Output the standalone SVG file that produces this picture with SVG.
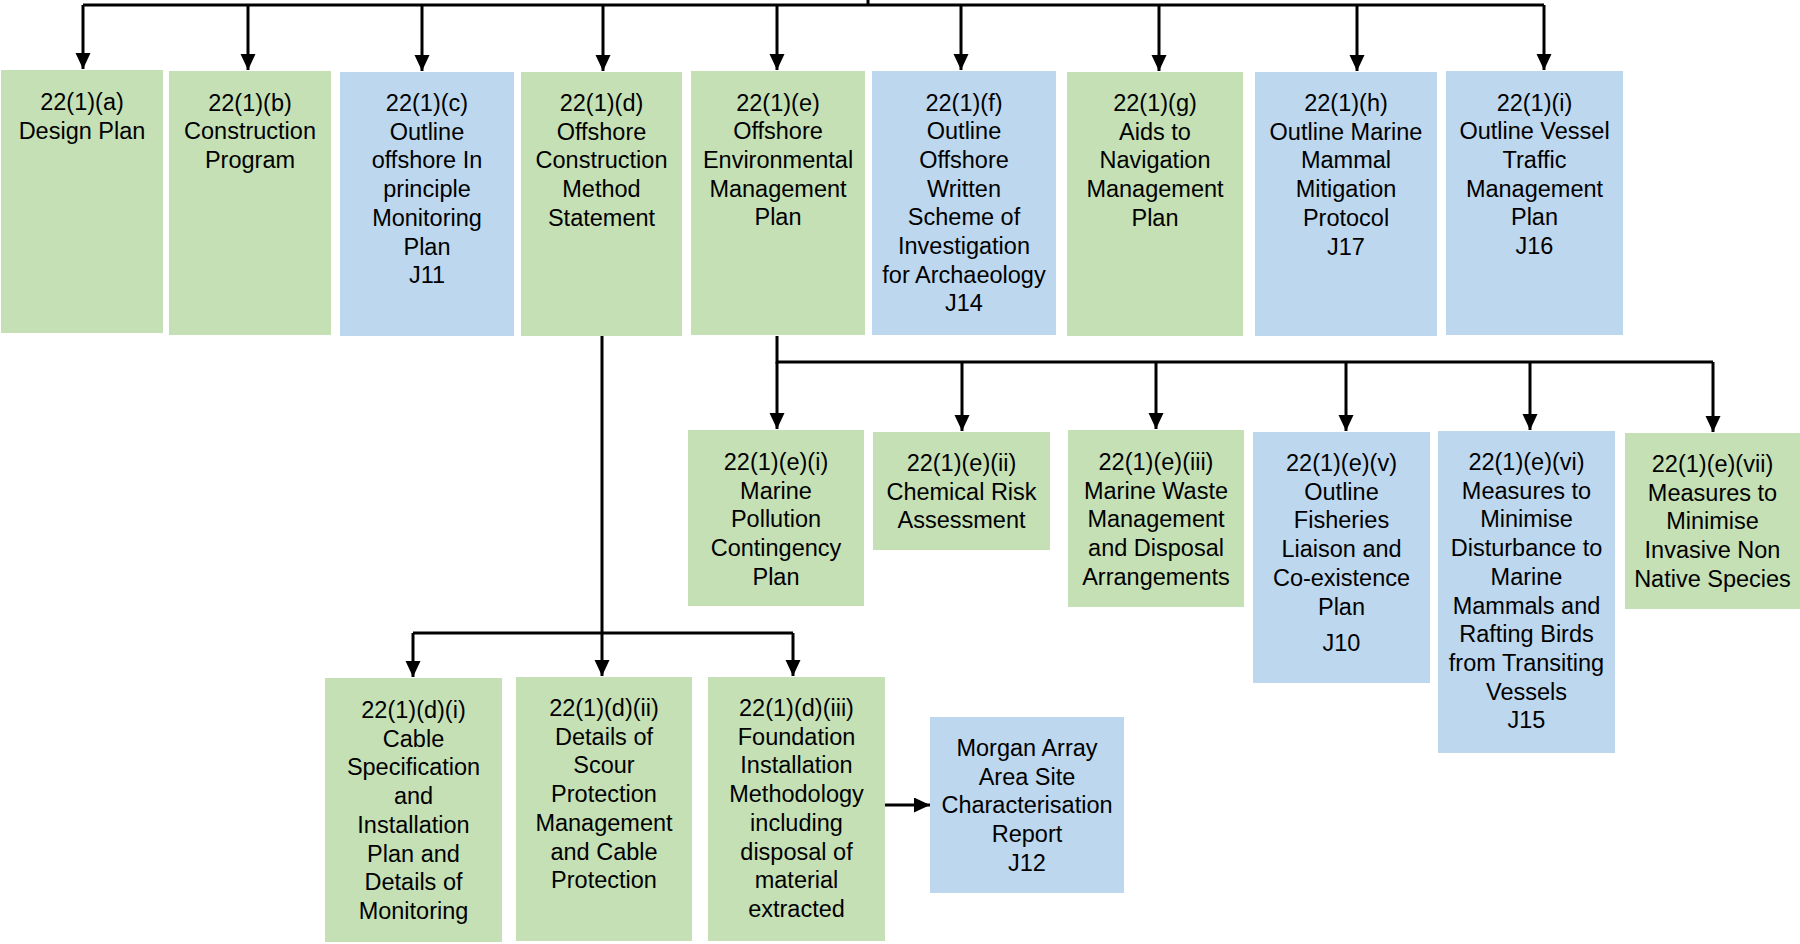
<svg xmlns="http://www.w3.org/2000/svg" width="1800" height="944" viewBox="0 0 1800 944">
<style>
.g{fill:#C5E0B4}
.b{fill:#BDD7EE}
text{font-family:"Liberation Sans",Arial,sans-serif;font-size:23.5px;fill:#000;text-anchor:middle}
.c{fill:none;stroke:#000;stroke-width:3}
.a{fill:none;stroke:#000;stroke-width:3;marker-end:url(#ah)}
</style>
<defs>
<marker id="ah" markerUnits="userSpaceOnUse" markerWidth="16" markerHeight="16" refX="16" refY="7.5" orient="auto">
<path d="M0,0 L16,7.5 L0,15 z" fill="#000"/>
</marker>
</defs>
<rect width="1800" height="944" fill="#fff"/>
<g id="connectors">
<path class="c" d="M868,0 V5 M83,5 H1544"/>
<path class="a" d="M83,5 V69"/>
<path class="a" d="M248,5 V70"/>
<path class="a" d="M422,5 V71"/>
<path class="a" d="M603,5 V71"/>
<path class="a" d="M777,5 V70"/>
<path class="a" d="M961,5 V70"/>
<path class="a" d="M1159,5 V71"/>
<path class="a" d="M1357,5 V71"/>
<path class="a" d="M1544,5 V70"/>
<path class="c" d="M777,336 V362 H1713"/>
<path class="a" d="M777,362 V429"/>
<path class="a" d="M962,362 V431"/>
<path class="a" d="M1156,362 V429"/>
<path class="a" d="M1346,362 V431"/>
<path class="a" d="M1530,362 V430"/>
<path class="a" d="M1713,362 V432"/>
<path class="c" d="M602,336 V633 M413,633 H793"/>
<path class="a" d="M413,633 V677"/>
<path class="a" d="M602,633 V676"/>
<path class="a" d="M793,633 V676"/>
<path class="a" d="M885,805 H930"/>
</g>
<g id="n_a"><rect class="g" x="1" y="70" width="162" height="263"/>
<text y="110"><tspan x="82">22(1)(a)</tspan><tspan x="82" dy="28.7">Design Plan</tspan></text></g>
<g id="n_b"><rect class="g" x="169" y="71" width="162" height="264"/>
<text y="110.5"><tspan x="250">22(1)(b)</tspan><tspan x="250" dy="28.7">Construction</tspan><tspan x="250" dy="28.7">Program</tspan></text></g>
<g id="n_c"><rect class="b" x="340" y="72" width="174" height="264"/>
<text y="111"><tspan x="427">22(1)(c)</tspan><tspan x="427" dy="28.7">Outline</tspan><tspan x="427" dy="28.7">offshore In</tspan><tspan x="427" dy="28.7">principle</tspan><tspan x="427" dy="28.7">Monitoring</tspan><tspan x="427" dy="28.7">Plan</tspan><tspan x="427" dy="28.7">J11</tspan></text></g>
<g id="n_d"><rect class="g" x="521" y="72" width="161" height="264"/>
<text y="111"><tspan x="601.5">22(1)(d)</tspan><tspan x="601.5" dy="28.7">Offshore</tspan><tspan x="601.5" dy="28.7">Construction</tspan><tspan x="601.5" dy="28.7">Method</tspan><tspan x="601.5" dy="28.7">Statement</tspan></text></g>
<g id="n_e"><rect class="g" x="691" y="71" width="174" height="264"/>
<text y="110.5"><tspan x="778">22(1)(e)</tspan><tspan x="778" dy="28.7">Offshore</tspan><tspan x="778" dy="28.7">Environmental</tspan><tspan x="778" dy="28.7">Management</tspan><tspan x="778" dy="28.7">Plan</tspan></text></g>
<g id="n_f"><rect class="b" x="872" y="71" width="184" height="264"/>
<text y="110.5"><tspan x="964">22(1)(f)</tspan><tspan x="964" dy="28.7">Outline</tspan><tspan x="964" dy="28.7">Offshore</tspan><tspan x="964" dy="28.7">Written</tspan><tspan x="964" dy="28.7">Scheme of</tspan><tspan x="964" dy="28.7">Investigation</tspan><tspan x="964" dy="28.7">for Archaeology</tspan><tspan x="964" dy="28.7">J14</tspan></text></g>
<g id="n_g"><rect class="g" x="1067" y="72" width="176" height="264"/>
<text y="111"><tspan x="1155">22(1)(g)</tspan><tspan x="1155" dy="28.7">Aids to</tspan><tspan x="1155" dy="28.7">Navigation</tspan><tspan x="1155" dy="28.7">Management</tspan><tspan x="1155" dy="28.7">Plan</tspan></text></g>
<g id="n_h"><rect class="b" x="1255" y="72" width="182" height="264"/>
<text y="111"><tspan x="1346">22(1)(h)</tspan><tspan x="1346" dy="28.7">Outline Marine</tspan><tspan x="1346" dy="28.7">Mammal</tspan><tspan x="1346" dy="28.7">Mitigation</tspan><tspan x="1346" dy="28.7">Protocol</tspan><tspan x="1346" dy="28.7">J17</tspan></text></g>
<g id="n_i"><rect class="b" x="1446" y="71" width="177" height="264"/>
<text y="110.5"><tspan x="1534.5">22(1)(i)</tspan><tspan x="1534.5" dy="28.7">Outline Vessel</tspan><tspan x="1534.5" dy="28.7">Traffic</tspan><tspan x="1534.5" dy="28.7">Management</tspan><tspan x="1534.5" dy="28.7">Plan</tspan><tspan x="1534.5" dy="28.7">J16</tspan></text></g>
<g id="n_ei"><rect class="g" x="688" y="430" width="176" height="176"/>
<text y="470"><tspan x="776">22(1)(e)(i)</tspan><tspan x="776" dy="28.7">Marine</tspan><tspan x="776" dy="28.7">Pollution</tspan><tspan x="776" dy="28.7">Contingency</tspan><tspan x="776" dy="28.7">Plan</tspan></text></g>
<g id="n_eii"><rect class="g" x="873" y="432" width="177" height="118"/>
<text y="471"><tspan x="961.5">22(1)(e)(ii)</tspan><tspan x="961.5" dy="28.7">Chemical Risk</tspan><tspan x="961.5" dy="28.7">Assessment</tspan></text></g>
<g id="n_eiii"><rect class="g" x="1068" y="430" width="176" height="177"/>
<text y="470"><tspan x="1156">22(1)(e)(iii)</tspan><tspan x="1156" dy="28.7">Marine Waste</tspan><tspan x="1156" dy="28.7">Management</tspan><tspan x="1156" dy="28.7">and Disposal</tspan><tspan x="1156" dy="28.7">Arrangements</tspan></text></g>
<g id="n_ev"><rect class="b" x="1253" y="432" width="177" height="251"/>
<text y="471"><tspan x="1341.5">22(1)(e)(v)</tspan><tspan x="1341.5" dy="28.7">Outline</tspan><tspan x="1341.5" dy="28.7">Fisheries</tspan><tspan x="1341.5" dy="28.7">Liaison and</tspan><tspan x="1341.5" dy="28.7">Co-existence</tspan><tspan x="1341.5" dy="28.7">Plan</tspan><tspan x="1341.5" dy="36.5">J10</tspan></text></g>
<g id="n_evi"><rect class="b" x="1438" y="431" width="177" height="322"/>
<text y="470"><tspan x="1526.5">22(1)(e)(vi)</tspan><tspan x="1526.5" dy="28.7">Measures to</tspan><tspan x="1526.5" dy="28.7">Minimise</tspan><tspan x="1526.5" dy="28.7">Disturbance to</tspan><tspan x="1526.5" dy="28.7">Marine</tspan><tspan x="1526.5" dy="28.7">Mammals and</tspan><tspan x="1526.5" dy="28.7">Rafting Birds</tspan><tspan x="1526.5" dy="28.7">from Transiting</tspan><tspan x="1526.5" dy="28.7">Vessels</tspan><tspan x="1526.5" dy="28.7">J15</tspan></text></g>
<g id="n_evii"><rect class="g" x="1625" y="433" width="175" height="176"/>
<text y="472"><tspan x="1712.5">22(1)(e)(vii)</tspan><tspan x="1712.5" dy="28.7">Measures to</tspan><tspan x="1712.5" dy="28.7">Minimise</tspan><tspan x="1712.5" dy="28.7">Invasive Non</tspan><tspan x="1712.5" dy="28.7">Native Species</tspan></text></g>
<g id="n_di"><rect class="g" x="325" y="678" width="177" height="264"/>
<text y="718"><tspan x="413.5">22(1)(d)(i)</tspan><tspan x="413.5" dy="28.7">Cable</tspan><tspan x="413.5" dy="28.7">Specification</tspan><tspan x="413.5" dy="28.7">and</tspan><tspan x="413.5" dy="28.7">Installation</tspan><tspan x="413.5" dy="28.7">Plan and</tspan><tspan x="413.5" dy="28.7">Details of</tspan><tspan x="413.5" dy="28.7">Monitoring</tspan></text></g>
<g id="n_dii"><rect class="g" x="516" y="677" width="176" height="264"/>
<text y="716"><tspan x="604">22(1)(d)(ii)</tspan><tspan x="604" dy="28.7">Details of</tspan><tspan x="604" dy="28.7">Scour</tspan><tspan x="604" dy="28.7">Protection</tspan><tspan x="604" dy="28.7">Management</tspan><tspan x="604" dy="28.7">and Cable</tspan><tspan x="604" dy="28.7">Protection</tspan></text></g>
<g id="n_diii"><rect class="g" x="708" y="677" width="177" height="264"/>
<text y="716"><tspan x="796.5">22(1)(d)(iii)</tspan><tspan x="796.5" dy="28.7">Foundation</tspan><tspan x="796.5" dy="28.7">Installation</tspan><tspan x="796.5" dy="28.7">Methodology</tspan><tspan x="796.5" dy="28.7">including</tspan><tspan x="796.5" dy="28.7">disposal of</tspan><tspan x="796.5" dy="28.7">material</tspan><tspan x="796.5" dy="28.7">extracted</tspan></text></g>
<g id="n_morgan"><rect class="b" x="930" y="717" width="194" height="176"/>
<text y="756"><tspan x="1027">Morgan Array</tspan><tspan x="1027" dy="28.7">Area Site</tspan><tspan x="1027" dy="28.7">Characterisation</tspan><tspan x="1027" dy="28.7">Report</tspan><tspan x="1027" dy="28.7">J12</tspan></text></g>
</svg>
